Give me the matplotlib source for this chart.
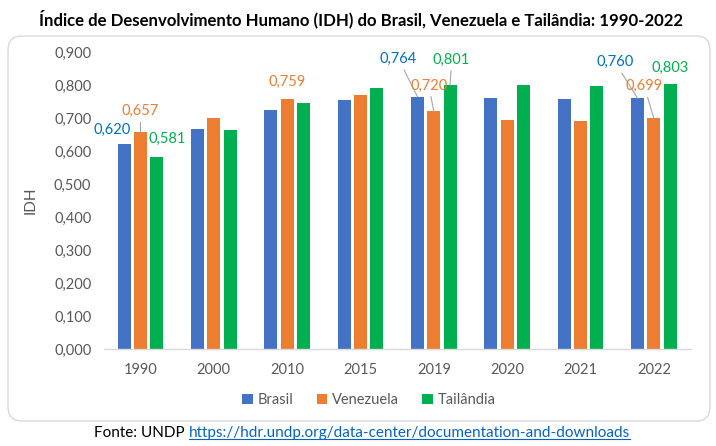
import numpy as np
import matplotlib
matplotlib.use("Agg")
import matplotlib.pyplot as plt
from matplotlib.patches import FancyBboxPatch, Patch
from matplotlib.lines import Line2D
from matplotlib.ticker import FuncFormatter

plt.rcParams['font.family'] = ['Lato', 'DejaVu Sans']

years = ["1990", "2000", "2010", "2015", "2019", "2020", "2021", "2022"]
brasil = [0.620, 0.667, 0.724, 0.754, 0.764, 0.760, 0.757, 0.760]
venezuela = [0.657, 0.701, 0.759, 0.769, 0.720, 0.693, 0.691, 0.699]
tailandia = [0.581, 0.664, 0.745, 0.791, 0.801, 0.801, 0.798, 0.803]
series_names = ["Brasil", "Venezuela", "Tailândia"]
title = "Índice de Desenvolvimento Humano (IDH) do Brasil, Venezuela e Tailândia: 1990-2022"
source_prefix = "Fonte: UNDP "
source_link = "https://hdr.undp.org/data-center/documentation-and-downloads"

bar_colors = ["#4472C4", "#ED7D31", "#00B050"]
label_colors = ["#0070C0", "#ED7D31", "#00B050"]

# labelled bars: (series index, category index, dx px, dy px, leader)
labels = [
    (0, 0, -12.5, 15, False),
    (1, 0, 0, 21, True),
    (2, 0, 10.5, 18, False),
    (1, 2, 0, 17, False),
    (0, 4, -19, 38, True),
    (1, 4, -5, 26, True),
    (2, 4, 1.5, 25, True),
    (0, 7, -22.5, 36, True),
    (1, 7, -9.5, 32, True),
    (2, 7, 0, 16, False),
]

W, H = 716, 446
fig = plt.figure(figsize=(W / 100, H / 100), dpi=100)
ax = fig.add_axes([103.8 / W, 1 - 349 / H, 586.7 / W, 297 / H])

x = np.arange(len(years))
width = 0.177
offs = [-0.222, 0.0, 0.222]
data = [brasil, venezuela, tailandia]
for i, vals in enumerate(data):
    ax.bar(x + offs[i], vals, width, color=bar_colors[i], label=series_names[i], zorder=2)

ax.set_xlim(-0.5, len(years) - 0.5)
ax.set_ylim(0, 0.9)
ax.set_yticks(np.arange(0, 0.91, 0.1))
ax.yaxis.set_major_formatter(FuncFormatter(lambda v, p: f"{v:.3f}".replace(".", ",")))
ax.set_xticks(x)
ax.set_xticklabels(years)
for s in ["top", "right", "left"]:
    ax.spines[s].set_visible(False)
ax.spines["bottom"].set_color("#D9D9D9")
ax.spines["bottom"].set_linewidth(1)
ax.tick_params(axis="both", length=0, labelsize=10.5, colors="#595959")
ax.tick_params(axis="y", pad=9)
ax.tick_params(axis="x", pad=10)
ax.set_ylabel("IDH", fontsize=11, color="#595959", labelpad=12)

for si, ci, dx, dy, leader in labels:
    v = data[si][ci]
    kw = {}
    if leader:
        kw["arrowprops"] = dict(arrowstyle="-", color="#A6A6A6", lw=0.8, shrinkA=1, shrinkB=0)
    ax.annotate(f"{v:.3f}".replace(".", ","), xy=(x[ci] + offs[si], v),
                xytext=(dx, dy), textcoords="offset pixels",
                ha="center", va="center", fontsize=10.5, color=label_colors[si], **kw)

handles = [Patch(facecolor=c, edgecolor="none") for c in bar_colors]
leg = fig.legend(handles, series_names, loc="center", bbox_to_anchor=(369 / W, 1 - 400 / H),
                 ncol=3, frameon=False, handlelength=0.7, handleheight=0.7,
                 handletextpad=0.35, columnspacing=1.6, fontsize=10.5)
for t in leg.get_texts():
    t.set_color("#595959")

fig.text(361 / W, 1 - 19 / H, title, ha="center", va="center", fontsize=12.1,
         fontweight="bold", color="black")

border = FancyBboxPatch((8, H - 421), 702, 385, boxstyle="round,pad=0,rounding_size=14",
                        transform=None, facecolor="none", edgecolor="#D9D9D9", lw=1)
fig.add_artist(border)

# source line
fig.canvas.draw()
r = fig.canvas.get_renderer()
t1 = fig.text(0, 1 - 433 / H, source_prefix, ha="left", va="center", fontsize=11, color="black")
t2 = fig.text(0, 1 - 433 / H, source_link, ha="left", va="center", fontsize=11, color="#0563C1")
w1 = t1.get_window_extent(r).width
w2 = t2.get_window_extent(r).width
x0 = 362 - (w1 + w2) / 2
t1.set_x(x0 / W)
t2.set_x((x0 + w1) / W)
bb = t2.get_window_extent(r)
fig.add_artist(Line2D([bb.x0, bb.x1], [bb.y0 + 1, bb.y0 + 1], transform=None,
                      color="#0563C1", lw=0.8))

fig.savefig("out.png", dpi=100)
